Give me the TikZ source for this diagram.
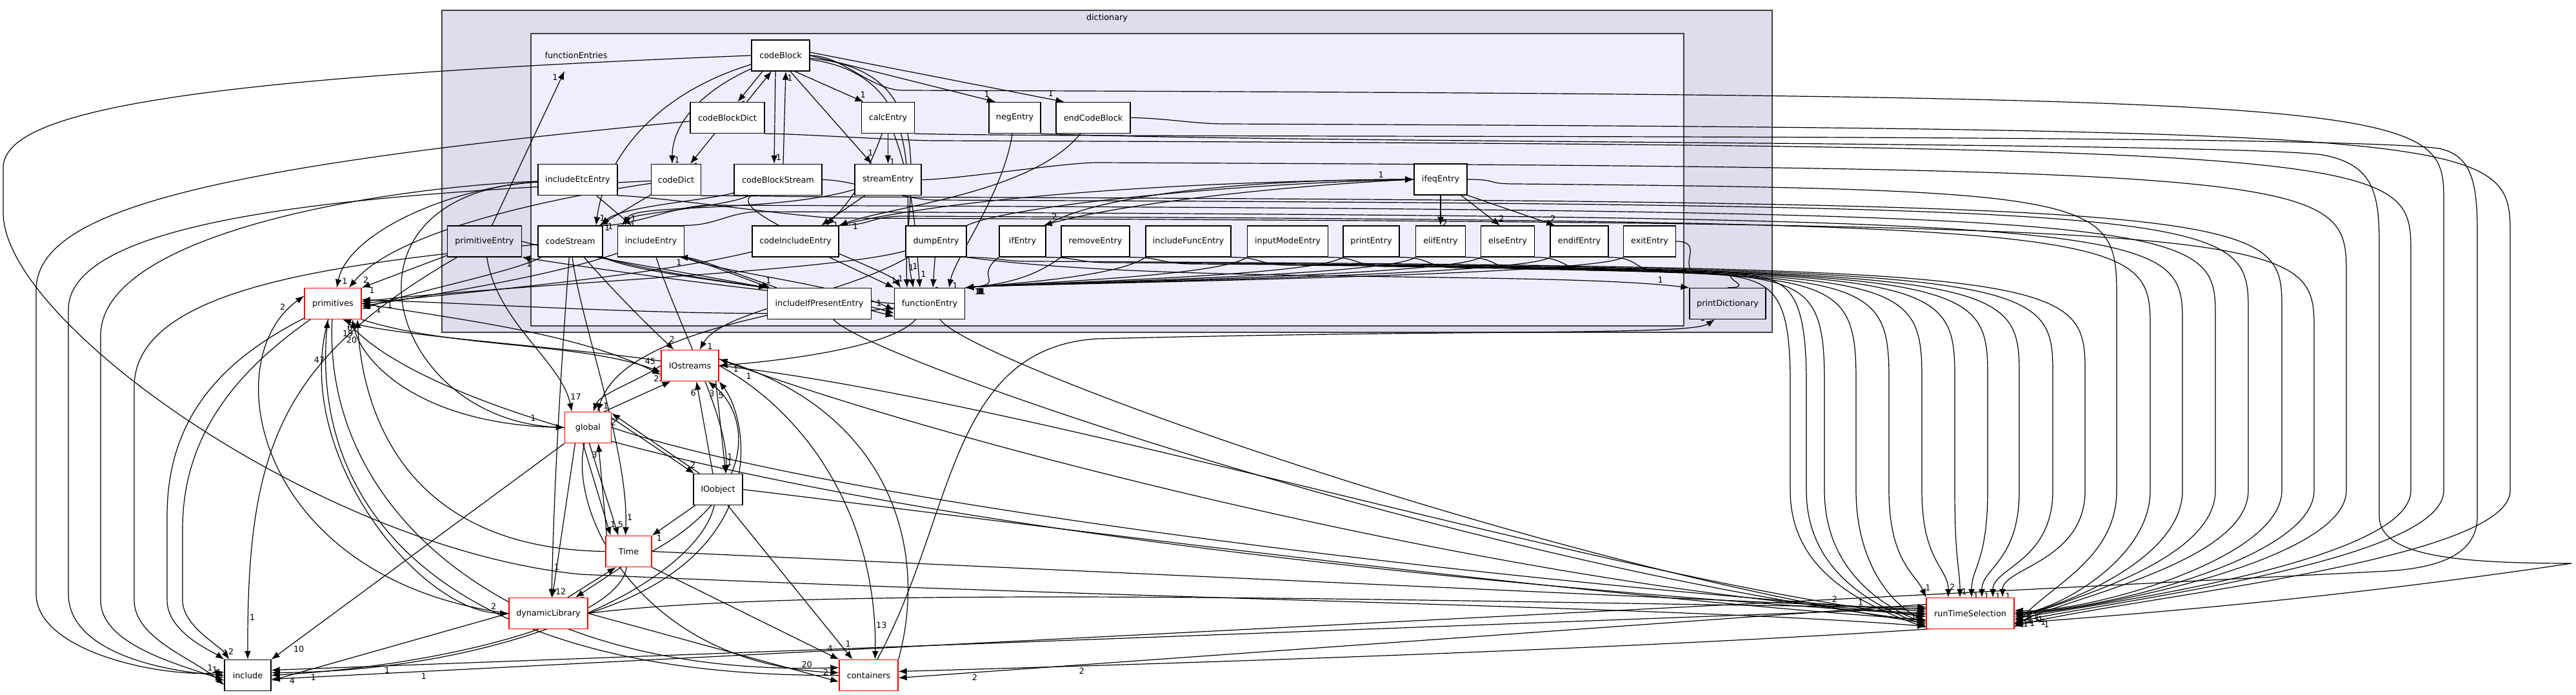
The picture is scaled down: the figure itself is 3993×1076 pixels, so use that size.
\documentclass[tikz,border=0pt]{standalone}
\usepackage{fontspec}
\setmainfont{DejaVu Sans}
\usetikzlibrary{arrows.meta}
\definecolor{dictfill}{HTML}{DDDDEE}
\definecolor{entryfill}{HTML}{EEEEFF}
\definecolor{clusterline}{HTML}{404040}
\pgfdeclarelayer{back}
\pgfdeclarelayer{wires}
\pgfsetlayers{back,wires,main}
\newcommand\lanedep[7]{\draw[dep] (#1) .. controls +(50,0) and (#7-50,#3) .. (#7,#3) .. controls (#2-30,#3+8) and (#2,#3+20) .. (#2,#3+170) -- (#2,760) .. controls (#2,870) and (#6) .. (#4) node[hl]{#5};}

\begin{document}
\begin{tikzpicture}
[x=1pt,y=-1pt,
every node/.style={font=\fontsize{12.8}{15}\selectfont},
dirbox/.style={draw,line width=1.3pt,fill=white,minimum height=48pt,inner sep=0pt},
extdir/.style={dirbox,draw=red},
updir/.style={dirbox,fill=dictfill},
dep/.style={-{Latex[length=13pt,width=10pt]},line width=1.2pt},
hl/.style={pos=0.93,auto,inner sep=2pt},
]
\useasboundingbox (0,0) rectangle (3993,1076);
\begin{pgfonlayer}{back}
\filldraw[fill=dictfill,draw=clusterline,line width=2pt] (685,16) rectangle (2747,515);
\filldraw[fill=entryfill,draw=clusterline,line width=2pt] (823,52) rectangle (2610,505);
\end{pgfonlayer}
\node (dictlabel) at (1716,28) {dictionary};
\node[minimum height=48pt,inner sep=0pt] (fes) at (893,86) {functionEntries};

\node[dirbox,minimum width=90pt] (cb) at (1210,86) {codeBlock};
\node[dirbox,minimum width=115pt] (cbd) at (1127.5,182.5) {codeBlockDict};
\node[dirbox,minimum width=82pt] (calc) at (1376.5,182.5) {calcEntry};
\node[dirbox,minimum width=80pt] (neg) at (1573,182.5) {negEntry};
\node[dirbox,minimum width=115pt] (ecb) at (1694.5,182.5) {endCodeBlock};
\node[dirbox,minimum width=123pt] (iee) at (895.5,278.5) {includeEtcEntry};
\node[dirbox,minimum width=77pt] (cd) at (1048,278.5) {codeDict};
\node[dirbox,minimum width=136pt] (cbs) at (1206,278.5) {codeBlockStream};
\node[dirbox,minimum width=103pt] (se) at (1376.5,278.5) {streamEntry};
\node[dirbox,minimum width=82pt] (ifeq) at (2233,278) {ifeqEntry};
\node[updir,minimum width=115pt] (pe) at (751,374) {primitiveEntry};
\node[dirbox,minimum width=100pt] (cs) at (884,374) {codeStream};
\node[dirbox,minimum width=103pt] (ie) at (1009,374) {includeEntry};
\node[dirbox,minimum width=134pt] (cie) at (1233,374) {codeIncludeEntry};
\node[dirbox,minimum width=94pt] (de) at (1451,374) {dumpEntry};
\node[dirbox,minimum width=72pt] (ife) at (1585,374) {ifEntry};
\node[dirbox,minimum width=106pt] (re) at (1698,374) {removeEntry};
\node[dirbox,minimum width=132pt] (ifu) at (1842,374) {includeFuncEntry};
\node[dirbox,minimum width=125pt] (ime) at (1996,374) {inputModeEntry};
\node[dirbox,minimum width=87pt] (pre) at (2125.5,374) {printEntry};
\node[dirbox,minimum width=77pt] (eli) at (2233,374) {elifEntry};
\node[dirbox,minimum width=83pt] (els) at (2337,374) {elseEntry};
\node[dirbox,minimum width=90pt] (eni) at (2448,374) {endifEntry};
\node[dirbox,minimum width=81pt] (exi) at (2557,374) {exitEntry};
\node[dirbox,minimum width=161pt] (iip) at (1270,470.5) {includeIfPresentEntry};
\node[dirbox,minimum width=109pt] (fe) at (1441,470.5) {functionEntry};
\node[updir,minimum width=118pt] (pd) at (2678,470.5) {printDictionary};
\node[extdir,minimum width=88pt] (prim) at (516,470.5) {primitives};
\node[extdir,minimum width=89pt] (ios) at (1069.5,566.5) {IOstreams};
\node[extdir,minimum width=72pt] (glob) at (911.5,662.5) {global};
\node[dirbox,minimum width=76pt] (ioo) at (1113,758.5) {IOobject};
\node[extdir,minimum width=71pt] (time) at (974.5,854.5) {Time};
\node[extdir,minimum width=122pt] (dyn) at (850,950.5) {dynamicLibrary};
\node[dirbox,minimum width=72pt] (inc) at (384,1046.5) {include};
\node[extdir,minimum width=91pt] (cont) at (1346.5,1046.5) {containers};
\node[extdir,minimum width=136pt] (rts) at (3054,950.5) {runTimeSelection};

\begin{pgfonlayer}{wires}
\draw[dep] ([xshift=-28]cb.south) -- ([xshift=16]cbd.north) node[hl]{1};
\draw[dep] ([xshift=30]cbd.north) -- ([xshift=-14]cb.south) node[hl]{1};
\draw[dep] ([xshift=-8]cb.south) -- ([xshift=-6]cbs.north) node[hl]{1};
\draw[dep] ([xshift=8]cbs.north) -- ([xshift=8]cb.south) node[hl,swap]{1};
\draw[dep] ([xshift=22]cb.south) -- ([xshift=-38]calc.north) node[hl]{1};
\draw[dep] (cb.east) -- ([xshift=-30]neg.north) node[hl]{1};
\draw[dep] ([yshift=5]cb.east) -- ([xshift=-45]ecb.north) node[hl]{1};
\draw[dep] (cb) .. controls (1090,140) and (1042,190) .. ([xshift=-6]cd.north) node[hl]{1};
\draw[dep] (cbd) -- ([xshift=22]cd.north) node[hl]{1};
\draw[dep] ([xshift=15]cb.south) -- ([xshift=-25]se.north) node[hl]{1};
\draw[dep] (calc) -- (se) node[hl]{1};
\draw[dep] (cb) .. controls (1000,150) and (935,260) .. ([xshift=40]cs.north) node[hl]{1};
\draw[dep] (cb) .. controls (1470,110) and (1400,300) .. ([xshift=-35]fe.north) node[hl]{1};
\draw[dep] (cb) .. controls (1460,120) and (1390,330) .. ([xshift=-25]fe.north) node[hl]{1};
\draw[dep] (cbs) .. controls (1120,330) and (1380,420) .. ([xshift=-45]fe.north) node[hl]{1};
\draw[dep] (calc) .. controls (1420,300) and (1420,380) .. ([xshift=-15]fe.north) node[hl]{1};
\draw[dep] (neg) .. controls (1555,300) and (1480,400) .. ([xshift=30]fe.north) node[hl]{1};
\draw[dep] (ecb) .. controls (1600,300) and (1380,320) .. (cie.north east) node[hl]{1};
\draw[dep] (calc) .. controls (1340,280) and (1320,310) .. ([xshift=-20]cie.north east) node[hl]{1};
\draw[dep] (se) -- ([xshift=40]cie.north) node[hl]{1};
\draw[dep] (iee) -- ([xshift=-30]ie.north) node[hl]{1};
\draw[dep] (cd) -- ([xshift=45]cs.north) node[hl]{1};
\draw[dep] (cbs) .. controls (1100,310) and (960,320) .. ([xshift=48]cs.north) node[hl]{1};
\draw[dep] (se) .. controls (1200,330) and (980,315) .. ([xshift=-40]ie.north) node[hl]{1};
\draw[dep] (cbs) .. controls (1130,320) and (980,330) .. ([xshift=-45]ie.north);
\draw[dep] (ifeq) -- (eli) node[hl]{2};
\draw[dep] (ifeq) -- ([xshift=-12]els.north) node[hl]{2};
\draw[dep] (ifeq.south east) -- ([xshift=8]eni.north west) node[hl]{2};
\draw[dep] (ife.north east) .. controls (1700,300) and (1950,278) .. (ifeq.west) node[hl]{1};
\draw[dep] (ifeq.west) .. controls (1950,290) and (1720,320) .. ([xshift=-4]ife.north east) node[hl,swap]{2};
\draw[dep] (de.north east) .. controls (1560,320) and (1900,285) .. (ifeq.west);
\draw[dep] (cie.north east) .. controls (1500,300) and (1900,280) .. (ifeq.west);
\draw[dep] (de) -- ([xshift=5]fe.north) node[hl]{1};
\foreach \s in {ife,re,ifu,ime,pre,eli,els,eni,exi}
  \draw[dep] (\s.south west) .. controls +(-40,30) and (1560,440) .. (fe.north east) node[hl]{1};
\draw[dep] (cs.south east) .. controls (1000,430) and (1250,445) .. ([yshift=-15]fe.west) node[hl]{1};
\draw[dep] (ie.south east) .. controls (1100,420) and (1300,440) .. ([yshift=-10]fe.west);
\draw[dep] (cie) -- (fe.north west) node[hl]{1};
\draw[dep] (pe.east) .. controls (900,400) and (1200,440) .. ([yshift=-20]fe.west);
\draw[dep] (fe.west) .. controls (1150,450) and (880,410) .. (pe.south east) node[hl]{1};
\draw[dep] (ie.south east) .. controls (1100,410) and (1150,430) .. ([xshift=5]iip.north west) node[hl]{1};
\draw[dep] ([xshift=15]iip.north west) .. controls (1130,420) and (1080,400) .. ([xshift=-8]ie.south east) node[hl]{1};
\draw[dep] (cs.south east) .. controls (1000,420) and (1150,440) .. (iip.north west);
\draw[dep] (pe) -- ([xshift=-18]fes.south) node[hl]{1};
\draw[dep] (de.south east) .. controls (1800,440) and (2400,420) .. (pd.north west) node[hl]{1};
\draw[dep] (cont) .. controls (1480,800) and (1470,540) .. (1700,525) .. controls (2300,510) and (2620,520) .. ([xshift=-20]pd.south) node[hl]{1};

\draw[dep] (pe) -- (prim.north east) node[hl]{1};
\draw[dep] (iee) .. controls (700,290) and (540,360) .. ([xshift=6]prim.north) node[hl]{1};
\draw[dep] (cd) .. controls (900,300) and (620,350) .. ([xshift=25]prim.north) node[hl]{2};
\draw[dep] (cs) .. controls (800,420) and (650,450) .. ([yshift=-8]prim.east) node[hl]{1};
\draw[dep] (ie) .. controls (850,430) and (650,460) .. ([yshift=-4]prim.east);
\draw[dep] (cie) .. controls (1000,430) and (700,455) .. (prim.east);
\draw[dep] (de) .. controls (1300,420) and (800,440) .. ([yshift=3]prim.east);
\draw[dep] (fe) .. controls (1200,500) and (750,470) .. ([yshift=6]prim.east) node[hl]{1};
\draw[dep] (cs) .. controls (950,450) and (1000,500) .. ([xshift=-25]ios.north) node[hl]{2};
\draw[dep] (de) .. controls (1300,460) and (1120,480) .. ([xshift=15]ios.north) node[hl]{1};
\draw[dep] (fe) .. controls (1380,540) and (1200,560) .. (ios.east) node[hl]{1};
\draw[dep] (iip) .. controls (1050,520) and (950,560) .. ([xshift=15]glob.north) node[hl]{1};
\draw[dep] (cs) .. controls (875,500) and (860,700) .. ([xshift=5]dyn.north) node[hl]{1};
\draw[dep] (cs) .. controls (900,500) and (975,700) .. ([xshift=-5]time.north) node[hl]{1};
\draw[dep] (ie) .. controls (1050,500) and (1130,650) .. ([xshift=12]ioo.north) node[hl]{1};
\draw[dep] (pe) .. controls (770,500) and (870,560) .. ([xshift=-25]glob.north) node[hl]{17};
\draw[dep] (iee) .. controls (500,300) and (600,650) .. (glob.west) node[hl]{1};

\draw[dep] (cbd) .. controls (300,260) and (56,330) .. (56,450) -- (56,920) .. controls (56,1010) and (250,1050) .. ([yshift=5]inc.west) node[hl]{1};
\draw[dep] (cd) .. controls (600,300) and (106,330) .. (106,480) -- (106,920) .. controls (106,1010) and (250,1040) .. (inc.west) node[hl]{1};
\draw[dep] (iee) .. controls (600,290) and (156,360) .. (156,520) -- (156,930) .. controls (156,1000) and (280,1030) .. ([yshift=-8]inc.west) node[hl]{1};
\draw[dep] (cs) .. controls (500,410) and (208,450) .. (208,600) -- (208,930) .. controls (208,990) and (300,1020) .. ([yshift=-15]inc.west) node[hl]{1};
\draw[dep] (prim) .. controls (340,560) and (259,650) .. (259,800) -- (259,930) .. controls (259,980) and (330,1010) .. (inc.north west) node[hl]{1};
\draw[dep] (prim) .. controls (360,580) and (283,680) .. (283,820) -- (283,930) .. controls (283,970) and (340,1000) .. ([xshift=8]inc.north west) node[hl]{2};
\draw[dep] (pe) .. controls (430,560) and (383,700) .. (inc.north) node[hl]{1};

\draw[dep] ([xshift=25]glob.north) -- ([xshift=-30]ios.south) node[hl]{22};
\draw[dep] (ios.west) .. controls (990,590) and (930,610) .. ([xshift=8]glob.north) node[hl]{1};
\draw[dep] ([yshift=15]glob.east) -- ([xshift=2]ioo.north west) node[hl]{2};
\draw[dep] ([xshift=10]ioo.north west) -- ([yshift=22]glob.east) node[hl]{2};
\draw[dep] ([xshift=-8]ioo.north) -- ([xshift=10]ios.south) node[hl]{6};
\draw[dep] ([xshift=40]ios.south) -- ([xshift=12]ioo.north) node[hl]{1};
\draw[dep] (time.east) .. controls (1180,760) and (1160,640) .. ([xshift=-17]ios.south east) node[hl]{3};
\draw[dep] (dyn.east) .. controls (1200,860) and (1160,650) .. (ios.south east) node[hl]{5};
\draw[dep] ([xshift=-8]glob.south) -- ([xshift=-28]time.north) node[hl]{1};
\draw[dep] ([xshift=2]glob.south) -- ([xshift=-16]time.north) node[hl]{5};
\draw[dep] ([xshift=-34]time.north) -- ([xshift=16]glob.south) node[hl]{3};
\draw[dep] (ioo) -- (time.north east) node[hl]{1};
\draw[dep] ([xshift=-20]glob.south) -- ([xshift=6]dyn.north) node[hl]{12};
\draw[dep] ([xshift=30]dyn.north) -- ([xshift=-20]time.south) node[hl]{1};
\draw[dep] ([xshift=-12]time.south) -- ([xshift=42]dyn.north) node[hl]{1};
\draw[dep] (glob.south west) -- (inc.north east) node[hl]{10};
\draw[dep] (dyn.west) -- ([yshift=-8]inc.east) node[hl]{4};
\draw[dep] (time) .. controls (960,960) and (700,1030) .. (inc.east) node[hl]{1};
\draw[dep] (ioo) .. controls (1080,900) and (800,1040) .. ([yshift=4]inc.east);
\draw[dep] (time.south east) -- (cont.north west) node[hl]{4};
\draw[dep] ([xshift=15]ioo.south) -- ([xshift=-25]cont.north) node[hl]{1};
\draw[dep] (dyn.east) -- ([yshift=-10]cont.west) node[hl]{2};
\draw[dep] (glob) .. controls (880,800) and (1000,1030) .. ([yshift=4]cont.west) node[hl]{20};
\draw[dep] (ios.east) .. controls (1250,640) and (1360,800) .. ([xshift=10]cont.north) node[hl]{13};
\draw[dep] (cont.north east) .. controls (1440,850) and (1380,640) .. ([yshift=10]ios.east) node[hl]{1};
\draw[dep] (cont.west) .. controls (700,1050) and (480,800) .. ([xshift=-8]prim.south) node[hl]{47};
\draw[dep] (prim) .. controls (500,800) and (800,1050) .. ([yshift=12]cont.west);
\draw[dep] (ios) .. controls (900,540) and (600,520) .. ([xshift=15]prim.south) node[hl]{6};
\draw[dep] (glob.west) .. controls (650,660) and (560,560) .. ([xshift=30]prim.south) node[hl]{19};
\draw[dep] (time.west) .. controls (600,850) and (560,600) .. ([xshift=38]prim.south) node[hl]{20};
\draw[dep] (dyn.west) .. controls (400,900) and (330,560) .. ([yshift=12]prim.west) node[hl]{2};
\draw[dep] (prim.south east) .. controls (700,540) and (900,530) .. ([yshift=-10]ios.west) node[hl]{45};
\draw[dep] (prim.east) .. controls (750,500) and (900,520) .. ([yshift=-14]ios.west);
\draw[dep] (prim) .. controls (450,700) and (650,950) .. (dyn.west) node[hl]{2};

\draw[dep] (ios.east) .. controls (1600,620) and (2500,900) .. ([yshift=-5]rts.west) node[hl]{1};
\draw[dep] ([yshift=10]ios.east) .. controls (1500,700) and (2400,920) .. (rts.west);
\draw[dep] (glob.east) .. controls (1300,780) and (2300,900) .. ([yshift=3]rts.west) node[hl]{2};
\draw[dep] (time.east) -- ([yshift=6]rts.west);
\draw[dep] (ioo.east) .. controls (1500,800) and (2400,920) .. ([yshift=-10]rts.west);
\draw[dep] (dyn.east) .. controls (1300,900) and (2500,940) .. ([yshift=10]rts.west);
\draw[dep] (prim) .. controls (700,700) and (1700,870) .. ([yshift=-2]rts.west);
\draw[dep] (fe) .. controls (1500,560) and (2400,880) .. ([yshift=-15]rts.west);
\draw[dep] (iip) .. controls (1350,560) and (2300,880) .. ([yshift=-12]rts.west);
\draw[dep] (cb.west) .. controls (300,120) and (5,170) .. (5,260) -- (5,330) .. controls (5,500) and (500,850) .. (900,890) .. controls (1800,930) and (2600,940) .. ([yshift=-20]rts.west);
\draw[dep] ([yshift=8]rts.west) -- ([yshift=8]inc.east) node[hl]{1};
\draw[dep] ([yshift=14]rts.west) -- ([yshift=-4]cont.east) node[hl]{2};

\lanedep{ecb.east}{3891}{192}{[yshift=-20]rts.east}{1}{3300,925}{1900}
\lanedep{cb.east}{3788}{140}{[yshift=-14]rts.east}{1}{3280,930}{1400}
\lanedep{cbd.south east}{3737}{218}{[yshift=-8]rts.east}{1}{3260,935}{1450}
\lanedep{se.east}{3637}{252}{[yshift=-2]rts.east}{1}{3240,945}{1700}
\lanedep{iee.south east}{3587}{338}{[yshift=2]rts.east}{1}{3230,950}{1300}
\lanedep{cd.south east}{3537}{305}{[yshift=5]rts.east}{1}{3220,952}{1300}
\lanedep{cbs.east}{3485}{310}{[yshift=-17]rts.east}{1}{3210,925}{1450}
\lanedep{cs.north east}{3434}{318}{[yshift=-11]rts.east}{1}{3200,930}{1100}
\lanedep{ie.north east}{3383}{328}{[yshift=-5]rts.east}{1}{3190,940}{1180}
\lanedep{cie.north east}{3333}{335}{[yshift=0]rts.east}{1}{3180,948}{1400}
\lanedep{ifeq.east}{3281}{285}{[yshift=-22]rts.east}{1}{3170,910}{2350}
\lanedep{de.south east}{3232}{405}{[xshift=50]rts.north}{1}{3104,880}{1600}
\lanedep{ife.south east}{3182}{407}{[xshift=35]rts.north}{1}{3089,880}{1720}
\lanedep{re.south east}{3130}{409}{[xshift=18]rts.north}{1}{3072,880}{1850}
\lanedep{ifu.south east}{3081}{411}{[xshift=2]rts.north}{1}{3056,880}{2000}
\lanedep{ime.south east}{3030}{413}{[xshift=-16]rts.north}{1}{3038,880}{2150}
\lanedep{pre.south east}{2979}{415}{[xshift=-34]rts.north}{2}{3020,880}{2260}
\lanedep{eli.south east}{2928}{417}{rts.north west}{1}{2970,890}{2360}
\lanedep{els.south east}{2877}{419}{[yshift=-12]rts.west}{1}{2930,936}{2470}
\lanedep{eni.south east}{2828}{421}{[yshift=-16]rts.west}{1}{2900,932}{2580}
\lanedep{pd.north}{2800}{425}{[yshift=-19]rts.west}{1}{2880,930}{2700}
\lanedep{exi.east}{2775}{423}{[yshift=-22]rts.west}{1}{2860,928}{2640}
\draw[dep] (calc.south east) .. controls (1700,215) and (3600,205) .. (3780,230) .. controls (3830,240) and (3840,280) .. (3840,360) -- (3840,800) .. controls (3840,860) and (3780,880) .. (3700,885) -- ([yshift=-6]inc.east) node[hl]{1};
\draw[dep] (neg.south east) .. controls (2000,222) and (3450,220) .. (3600,240) .. controls (3680,255) and (3688,300) .. (3688,380) -- (3688,800) .. controls (3688,860) and (3800,873) .. (3986,873) .. controls (3400,960) and (2800,1000) .. ([yshift=6]cont.east) node[hl]{2};
\end{pgfonlayer}
\end{tikzpicture}
\end{document}
